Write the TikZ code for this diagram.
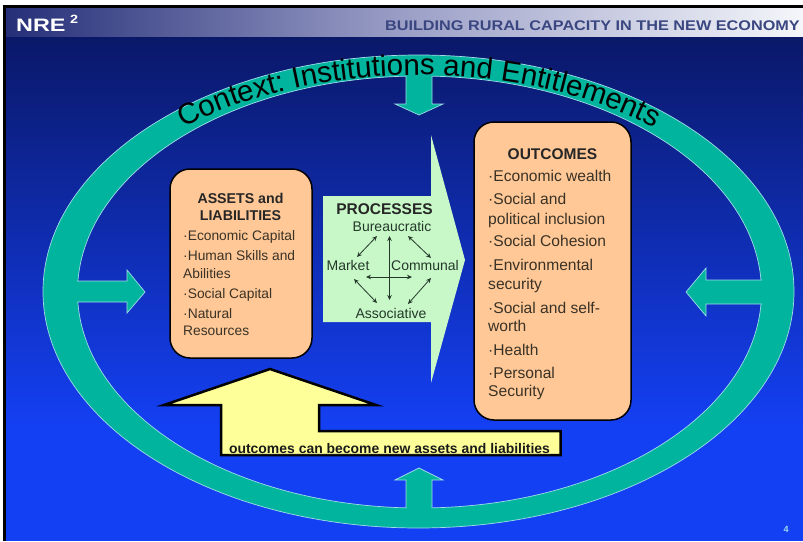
\documentclass[tikz,border=0pt]{standalone}
\usepackage{graphicx}
\usepackage{fontspec}
\setmainfont{Liberation Sans}
\usetikzlibrary{arrows.meta,decorations.text}
\definecolor{ringc}{HTML}{00B49E}
\definecolor{ringe}{HTML}{A0DCE8}
\definecolor{boxc}{HTML}{FFC896}
\definecolor{greenc}{HTML}{C8F8C8}
\definecolor{yellowc}{HTML}{FFFF99}
\definecolor{inkc}{HTML}{3A3226}
\definecolor{procink}{HTML}{24382A}
\definecolor{bgtop}{HTML}{0A1868}
\definecolor{bgbot}{HTML}{1440F4}
\definecolor{headL}{HTML}{252F78}
\definecolor{headM}{HTML}{9A9EC6}
\definecolor{headR}{HTML}{F4F6FA}
\definecolor{headink}{HTML}{3A4680}
\newcommand{\ctxfont}{\fontsize{29.5}{30}\selectfont\color{black}}
\tikzset{
 boxstyle/.style={draw=black,line width=1.5pt,fill=boxc,rounded corners=20pt,inner sep=0pt},
 item/.style={anchor=base west,inner sep=0pt,text=inkc,font=\fontsize{13.8}{14}\selectfont},
 itemb/.style={anchor=base west,inner sep=0pt,text=inkc,font=\fontsize{15.6}{16}\selectfont},
 headb/.style={anchor=base,inner sep=0pt,text=black!85,font=\bfseries\fontsize{14.2}{15}\selectfont},
 headc/.style={anchor=base,inner sep=0pt,text=black!85,font=\bfseries\fontsize{15.5}{16}\selectfont},
 proc/.style={anchor=base,inner sep=0pt,text=procink,font=\fontsize{14}{15}\selectfont},
 link/.style={{Stealth[length=5pt,width=4.5pt]}-{Stealth[length=5pt,width=4.5pt]},line width=.8pt,draw=procink},
 ringline/.style={draw=ringe,line width=.7pt}
}
\begin{document}
\begin{tikzpicture}[x=1pt,y=-1pt]
\useasboundingbox (0,0) rectangle (803,541);
% frame and background
\fill[white] (0,0) rectangle (803,541);
\fill[black] (3,5) rectangle (803,541);
\shade[top color=bgtop,bottom color=bgbot] (6,36) rectangle (803,430);
\fill[bgbot] (6,429.5) rectangle (803,541);
\shade[left color=headL,right color=headM] (6,8) rectangle (400,36);
\shade[left color=headM,right color=headR] (399.5,8) rectangle (803,36);
\node[anchor=base west,inner sep=0pt,text=white,font=\bfseries\fontsize{18}{18}\selectfont] (nre) at (16,31) {\scalebox{1.3}[1]{NRE}};
\node[anchor=base west,inner sep=0pt,text=white,font=\bfseries\fontsize{12}{12}\selectfont] (nretwo) at (70,23) {\scalebox{1.2}[1]{2}};
\node[anchor=base east,inner sep=0pt,text=headink,font=\bfseries\fontsize{14}{14}\selectfont] (title) at (800,30) {\scalebox{1.16}[1]{BUILDING RURAL CAPACITY IN THE NEW ECONOMY}};
\node[inner sep=0pt,text=ringe,font=\bfseries\fontsize{9}{10}\selectfont] (pageno) at (786,529) {4};
% ring
\path[fill=ringc,even odd rule] (418.5,291.5) ellipse [x radius=375.5,y radius=236.5] (419.5,292) ellipse [x radius=342,y radius=216];
\draw[ringline] (418.5,291.5) ellipse [x radius=375.5,y radius=236.5];
\draw[ringline] (419.5,292) ellipse [x radius=342,y radius=216];
% ring arrows
\fill[ringc] (406,74) -- (432,74) -- (432,104) -- (443,104) -- (419,115) -- (395,104) -- (406,104) -- cycle;
\draw[ringline] (406,76) -- (406,104) -- (395,104) -- (419,115) -- (443,104) -- (432,104) -- (432,76);
\fill[ringc] (406,510) -- (432,510) -- (432,480) -- (443,480) -- (419,468) -- (395,480) -- (406,480) -- cycle;
\draw[ringline] (406,508) -- (406,480) -- (395,480) -- (419,468) -- (443,480) -- (432,480) -- (432,508);
\fill[ringc] (75,281) -- (127,281) -- (127,270) -- (145,292) -- (127,313) -- (127,302) -- (75,302) -- cycle;
\draw[ringline] (77,281) -- (127,281) -- (127,270) -- (145,292) -- (127,313) -- (127,302) -- (77,302);
\fill[ringc] (764,280) -- (706,280) -- (706,268) -- (686,292) -- (706,316) -- (706,304) -- (764,304) -- cycle;
\draw[ringline] (762,280) -- (706,280) -- (706,268) -- (686,292) -- (706,316) -- (706,304) -- (762,304);
% curved title
\begin{scope}[y=1pt]
\path[decorate,decoration={text along path,text align={center},text={|\ctxfont|Context: Institutions and Entitlements}}]
  (419,-291) ++(150:360 and 216) arc [start angle=150,end angle=30,x radius=360,y radius=216];
\end{scope}
% assets box
\node[boxstyle,minimum width=142pt,minimum height=189pt] (assetsbox) at (241,263.5) {};
\node[headb] (assetsa) at (240.5,203) {ASSETS and};
\node[headb] (assetsb) at (240.5,220) {LIABILITIES};
\node[item] (a1) at (183,240) {·Economic Capital};
\node[item] (a2) at (183,260) {·Human Skills and};
\node[item] (a3) at (183,278) {Abilities};
\node[item] (a4) at (183,298) {·Social Capital};
\node[item] (a5) at (183,318) {·Natural};
\node[item] (a6) at (183,335) {Resources};
% outcomes box
\node[boxstyle,minimum width=157pt,minimum height=298pt] (outbox) at (552.5,271) {};
\node[headc] (outh) at (552.5,159) {OUTCOMES};
\node[itemb] (o1) at (488,181) {·Economic wealth};
\node[itemb] (o2) at (488,204) {·Social and};
\node[itemb] (o3) at (488,224) {political inclusion};
\node[itemb] (o4) at (488,246) {·Social Cohesion};
\node[itemb] (o5) at (488,270) {·Environmental};
\node[itemb] (o6) at (488,289) {security};
\node[itemb] (o7) at (488,313) {·Social and self-};
\node[itemb] (o8) at (488,331) {worth};
\node[itemb] (o9) at (488,355) {·Health};
\node[itemb] (o10) at (488,378) {·Personal};
\node[itemb] (o11) at (488,396) {Security};
% processes arrow
\fill[greenc] (323,196) -- (431,196) -- (431,135) -- (465,260) -- (431,383) -- (431,322) -- (323,322) -- cycle;
\node[headc] (proch) at (384.5,214) {PROCESSES};
\node[proc] (bur) at (392,231) {Bureaucratic};
\node[proc] (mkt) at (348,270) {Market};
\node[proc] (com) at (425,270) {Communal};
\node[proc] (ass) at (391,318) {Associative};
\draw[link] ([shift={(-15,5)}]bur.base) -- ([shift={(9,-13)}]mkt.base);
\draw[link] ([shift={(16,5)}]bur.base) -- ([shift={(6,-12)}]com.base);
\draw[link] ([shift={(6,9)}]mkt.base) -- ([shift={(-14,-15)}]ass.base);
\draw[link] ([shift={(6,8)}]com.base) -- ([shift={(17,-14)}]ass.base);
\draw[link] ([shift={(-2.5,5)}]bur.base) -- ([shift={(-1.5,-18)}]ass.base);
\draw[link] ([shift={(18,7)}]mkt.base) -- ([shift={(-13,7)}]com.base);
% yellow arrow
\draw[fill=yellowc,draw=black,line width=2.5pt,miter limit=10,line join=miter]
  (270,369) -- (376,405) -- (319,405) -- (319,431) -- (560.5,431) -- (560.5,455) -- (221,455) -- (221,405) -- (164,405) -- cycle;
\node[anchor=base,inner sep=0pt,text=black!90,font=\bfseries\fontsize{13.95}{14}\selectfont] (ylabel) at (389.5,453) {\underline{outcomes can become new assets and liabilities}};
\end{tikzpicture}
\end{document}
